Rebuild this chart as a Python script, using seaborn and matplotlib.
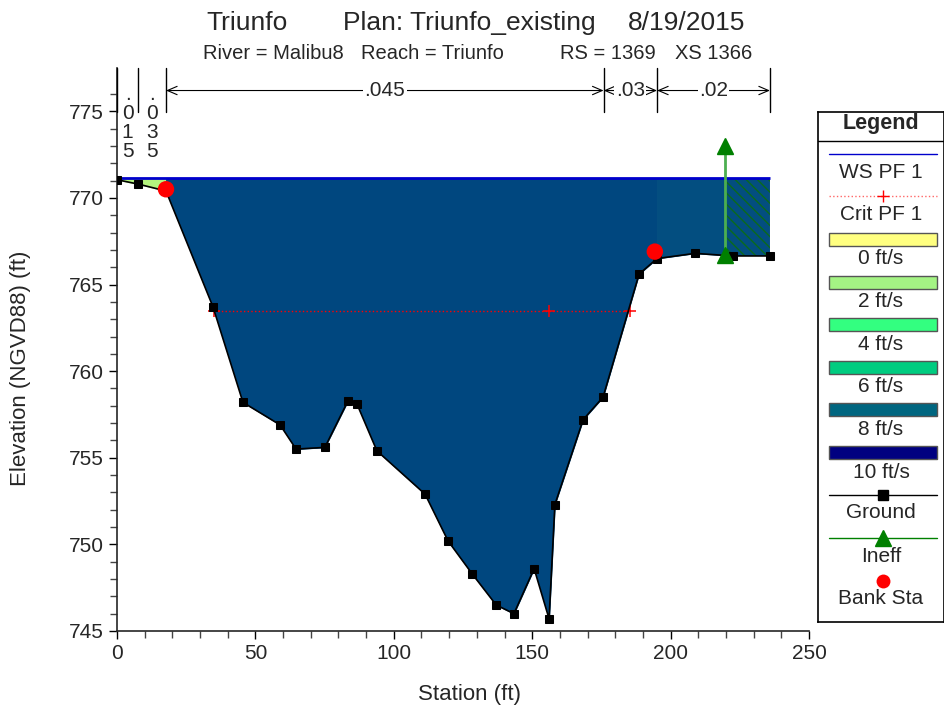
import numpy as np
import matplotlib
matplotlib.use("Agg")
import matplotlib.pyplot as plt
from matplotlib.patches import Rectangle
import seaborn as sns

# ground points of the cross section (station ft, elevation ft)
station = [0.0, 7.6, 17.7, 34.7, 45.5, 58.9, 64.7, 75.1, 83.5, 86.7, 93.9,
           111.3, 119.6, 128.3, 137.0, 143.4, 150.7, 156.1, 158.2, 168.4,
           175.6, 188.6, 195.1, 208.8, 222.5, 235.9]
ground = [771.05, 770.8, 770.4, 763.7, 758.2, 756.9, 755.5, 755.6, 758.3,
          758.1, 755.4, 752.9, 750.2, 748.3, 746.5, 746.0, 748.6, 745.7,
          752.3, 757.2, 758.5, 765.6, 766.5, 766.8, 766.65, 766.65]

ws_elev = 771.15
crit_elev = 763.5
crit_sta = [34.9, 156.0, 185.3]

bank_sta = [17.7, 194.3]
bank_elev = [770.5, 766.9]

ineff_sta = 219.7
ineff_elev = [766.7, 773.0]

# manning's n
n_bounds = [0.0, 7.6, 17.7, 175.8, 195.1, 235.9]
n_values = [".015", ".035", ".045", ".03", ".02"]

# velocity coloured zones
zone_bounds = [0.0, 17.7, 195.1, 219.7, 235.9]
zone_colors = ["#b4f47e", "#00477f", "#034e80", "#034e80"]

vel_labels = ["0 ft/s", "2 ft/s", "4 ft/s", "6 ft/s", "8 ft/s", "10 ft/s"]
vel_colors = ["#ffff80", "#a4f384", "#33ff80", "#00cc80", "#006680", "#000080"]

sns.set_style("ticks")
plt.rcParams["font.family"] = ["Liberation Sans", "DejaVu Sans"]
plt.rcParams["hatch.color"] = "#0b6b1c"
plt.rcParams["hatch.linewidth"] = 1.0

fig = plt.figure(figsize=(9.45, 7.1), dpi=100)
ax = fig.add_axes([117 / 945, 1 - 631 / 710, 692 / 945, 563 / 710])

# water fill per zone
st = np.array(station)
gr = np.array(ground)
for i, c in enumerate(zone_colors):
    a, b = zone_bounds[i], zone_bounds[i + 1]
    xs = np.unique(np.r_[a, st[(st > a) & (st < b)], b])
    gs = np.interp(xs, st, gr)
    hatched = i == len(zone_colors) - 1
    ax.fill_between(xs, gs, ws_elev, where=gs < ws_elev, interpolate=True,
                    facecolor=c, edgecolor="#0b6b1c" if hatched else c,
                    hatch="\\\\\\" if hatched else None,
                    linewidth=0 if hatched else 0.6, zorder=1)

# water surface and critical depth
ax.hlines(ws_elev, station[0], station[-1], color="#0000cc", lw=2, zorder=3)
ax.plot(crit_sta, [crit_elev] * len(crit_sta), color="red", ls=":", lw=1,
        marker="+", ms=9, mew=1.1, zorder=3)

# ground
sns.lineplot(x=station, y=ground, sort=False, color="black", lw=1.2,
             marker="s", markersize=6, markeredgecolor="black", ax=ax, zorder=4)

# ineffective flow
ax.plot([ineff_sta] * 2, ineff_elev, color="#4caf50", lw=2, zorder=5)
ax.plot([ineff_sta] * 2, ineff_elev, ls="none", marker="^", color="#008000",
        ms=11, zorder=5)

# bank stations
sns.scatterplot(x=bank_sta, y=bank_elev, color="red", s=140, edgecolor="none",
                ax=ax, zorder=6)

# n values along the top
ytop = 777.5
for i, lab in enumerate(n_values):
    a, b = n_bounds[i], n_bounds[i + 1]
    mid = (a + b) / 2
    if b - a < 15:
        ax.text(mid, 774.3, "\n".join(lab), ha="center", va="center",
                fontsize=15, linespacing=1.0, zorder=7)
    else:
        ax.annotate("", xy=(a, 776.2), xytext=(b, 776.2),
                    arrowprops=dict(arrowstyle="<->,head_length=0.7,head_width=0.3",
                                    lw=0.8, color="black", shrinkA=0, shrinkB=0))
        ax.text(mid, 776.2, lab, ha="center", va="center", fontsize=15, zorder=7,
                bbox=dict(fc="white", ec="none", pad=1))
for xb in n_bounds:
    ax.plot([xb, xb], [774.95, ytop], color="black", lw=1, clip_on=False, zorder=7)

ax.set_xlim(0, 250)
ax.set_ylim(745, 777.5)
ax.set_xticks(np.arange(0, 251, 50))
ax.set_xticks(np.arange(0, 251, 10), minor=True)
ax.set_yticks(np.arange(745, 776, 5))
ax.set_yticks(np.arange(745, 777, 1), minor=True)
ax.tick_params(which="major", direction="out", length=6, width=1, labelsize=15,
               color="black")
ax.tick_params(which="minor", direction="out", length=5, width=1, color="#444444")
sns.despine(ax=ax)
ax.spines["left"].set_linewidth(1.2)
ax.spines["bottom"].set_linewidth(1.2)

ax.set_xlabel("Station (ft)", fontsize=16)
ax.set_ylabel("Elevation (NGVD88) (ft)", fontsize=16)
ax.xaxis.set_label_coords(0.51, -0.094)
ax.yaxis.set_label_coords(-0.124, 0.467)

# title pieces
fig.text(206 / 945, 1 - 30 / 710, "Triunfo", fontsize=19, va="baseline")
fig.text(343 / 945, 1 - 30 / 710, "Plan: Triunfo_existing", fontsize=19, va="baseline")
fig.text(745 / 945, 1 - 30 / 710, "8/19/2015", fontsize=19, va="baseline", ha="right")
fig.text(203 / 945, 1 - 59 / 710, "River = Malibu8", fontsize=14.5, va="baseline")
fig.text(361 / 945, 1 - 59 / 710, "Reach = Triunfo", fontsize=14.5, va="baseline")
fig.text(560 / 945, 1 - 59 / 710, "RS = 1369", fontsize=14.5, va="baseline")
fig.text(752 / 945, 1 - 59 / 710, "XS 1366", fontsize=14.5, va="baseline", ha="right")

# legend panel
lax = fig.add_axes([818 / 945, 1 - 622 / 710, 126 / 945, 510 / 710])
lax.set_xlim(0, 126)
lax.set_ylim(510, 0)
lax.set_xticks([])
lax.set_yticks([])
for s in lax.spines.values():
    s.set_linewidth(1.2)
    s.set_color("black")
lax.text(63, 12, "Legend", ha="center", va="center", fontsize=15.5, fontweight="bold")
lax.axhline(29, color="black", lw=1)
lfs = 15
lax.plot([11, 119], [42, 42], color="#0000cc", lw=1)
lax.text(63, 61, "WS PF 1", ha="center", va="center", fontsize=lfs)
lax.plot([11, 119], [84, 84], color="#ff6666", ls=":", lw=1)
lax.plot([65], [84], color="red", marker="+", ms=9)
lax.text(63, 102, "Crit PF 1", ha="center", va="center", fontsize=lfs)
for k, (lab, col) in enumerate(zip(vel_labels, vel_colors)):
    y0 = 121 + k * 42.6
    lax.add_patch(Rectangle((11, y0), 108, 13, facecolor=col, edgecolor="#555555", lw=1))
    lax.text(63, y0 + 26, lab, ha="center", va="center", fontsize=lfs)
lax.plot([11, 119], [383, 383], color="black", lw=1)
lax.plot([65], [383], color="black", marker="s", ms=6.5)
lax.text(63, 401, "Ground", ha="center", va="center", fontsize=lfs)
lax.plot([11, 119], [426, 426], color="#008000", lw=1)
lax.plot([65], [426], color="#008000", marker="^", ms=11)
lax.text(63, 445, "Ineff", ha="center", va="center", fontsize=lfs)
lax.plot([65], [469], color="red", marker="o", ms=10, mec="none")
lax.text(63, 487, "Bank Sta", ha="center", va="center", fontsize=lfs)

fig.savefig("out.png", dpi=100)
